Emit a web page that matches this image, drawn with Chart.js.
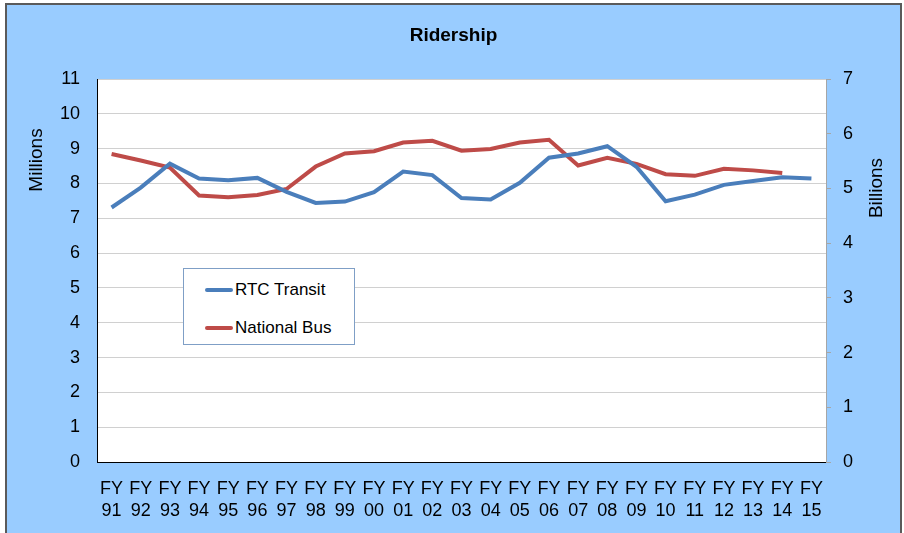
<!DOCTYPE html>
<html>
<head>
<meta charset="utf-8">
<script src="https://cdn.jsdelivr.net/npm/chart.js@4/dist/chart.umd.min.js"></script>
<style>
  html, body { margin: 0; padding: 0; background: #ffffff; }
  #frame {
    position: absolute; left: 5px; top: 3px; width: 897px; height: 540px;
    box-sizing: border-box; border: 2px solid #5a5a5a; background: #99CCFF; overflow: hidden;
  }
  #c { position: absolute; left: 0; top: 0; }
  #legend {
    position: absolute; left: 176px; top: 263px; width: 172px; height: 77px;
    box-sizing: border-box; border: 1px solid #7f9fc6; background: #ffffff;
    padding-top: 2px; font-family: 'Liberation Sans', Arial, sans-serif; font-size: 17px; color: #000;
  }
  .row { height: 38px; display: flex; align-items: center; padding-left: 21px; }
  .sw { width: 28px; height: 4px; border-radius: 2px; margin-right: 2px; }
</style>
</head>
<body>
<div id="frame">
  <canvas id="c" width="893" height="528" style="width:893px;height:528px"></canvas>
  <div id="legend"></div>
</div>
<script>
const chartTitle = 'Ridership';
const leftAxisTitle = 'Millions';
const rightAxisTitle = 'Billions';
const years = ['91','92','93','94','95','96','97','98','99','00','01','02','03','04','05','06','07','08','09','10','11','12','13','14','15'];
const rtcTransit = [7.31, 7.88, 8.57, 8.14, 8.09, 8.16, 7.76, 7.44, 7.48, 7.75, 8.34, 8.24, 7.58, 7.54, 8.02, 8.74, 8.86, 9.07, 8.48, 7.49, 7.68, 7.96, 8.07, 8.18, 8.14];
const nationalBus = [5.63, 5.51, 5.38, 4.87, 4.84, 4.88, 4.99, 5.40, 5.64, 5.68, 5.84, 5.87, 5.69, 5.72, 5.84, 5.89, 5.42, 5.56, 5.45, 5.26, 5.23, 5.36, 5.33, 5.28, null];
const seriesNames = ['RTC Transit', 'National Bus'];
const seriesColors = ['#4A7EBB', '#BE4B48'];

const FONT = "'Liberation Sans', Arial, sans-serif";
Chart.defaults.font.family = FONT;
Chart.defaults.color = '#000';

const bgPlugin = {
  id: 'bg',
  beforeDraw(chart) {
    const {ctx, chartArea: a} = chart;
    ctx.save();
    ctx.fillStyle = '#ffffff';
    ctx.fillRect(a.left, a.top, a.right - a.left, a.bottom - a.top);
    ctx.restore();
  }
};
const axisTitlePlugin = {
  id: 'axisTitles',
  afterDraw(chart) {
    const {ctx, chartArea: a} = chart;
    ctx.save();
    ctx.font = '19px ' + FONT;
    ctx.fillStyle = '#000';
    ctx.textAlign = 'center';
    ctx.textBaseline = 'middle';
    ctx.save();
    ctx.translate(a.left - 60, a.top + 81);
    ctx.rotate(-Math.PI / 2);
    ctx.fillText(leftAxisTitle, 0, 0);
    ctx.restore();
    ctx.save();
    ctx.translate(a.right + 51, a.top + 109);
    ctx.rotate(-Math.PI / 2);
    ctx.fillText(rightAxisTitle, 0, 0);
    ctx.restore();
    ctx.restore();
  }
};

const chart = new Chart(document.getElementById('c'), {
  type: 'line',
  data: {
    labels: years.map(y => ['FY', y]),
    datasets: [
      { label: seriesNames[0], data: rtcTransit, borderColor: seriesColors[0], backgroundColor: seriesColors[0],
        borderWidth: 4, pointRadius: 0, tension: 0, yAxisID: 'y' },
      { label: seriesNames[1], data: nationalBus, borderColor: seriesColors[1], backgroundColor: seriesColors[1],
        borderWidth: 4, pointRadius: 0, tension: 0, yAxisID: 'y1' }
    ]
  },
  options: {
    responsive: false,
    animation: false,
    layout: { padding: 0 },
    plugins: {
      legend: { display: false },
      tooltip: { enabled: false },
      title: {
        display: true, text: chartTitle,
        font: { size: 19, weight: 'bold', family: FONT, lineHeight: 1.2 },
        color: '#000',
        padding: { top: 19.6, bottom: 31.6 }
      }
    },
    scales: {
      x: {
        type: 'category',
        offset: true,
        grid: { display: false, drawTicks: false },
        border: { display: true, color: '#000', width: 1 },
        ticks: { autoSkip: false, maxRotation: 0, minRotation: 0, padding: 16,
                 font: { size: 18, lineHeight: 1.24 }, color: '#000' },
        afterFit(s) { s.height = 71; }
      },
      y: {
        position: 'left', min: 0, max: 11,
        grid: { color: '#d0d0d0', drawTicks: false, lineWidth: 1 },
        border: { display: true, color: '#000', width: 1 },
        ticks: { stepSize: 1, padding: 17, font: { size: 18 }, color: '#000' },
        afterFit(s) { s.width = 90; }
      },
      y1: {
        position: 'right', min: 0, max: 7,
        grid: { drawOnChartArea: false, drawTicks: true, tickLength: 5, color: '#a6a6a6' },
        border: { display: true, color: '#a6a6a6', width: 1 },
        ticks: { stepSize: 1, padding: 12, font: { size: 18 }, color: '#000' },
        afterFit(s) { s.width = 74; }
      }
    }
  },
  plugins: [bgPlugin, axisTitlePlugin]
});

const legendEl = document.getElementById('legend');
chart.data.datasets.forEach(ds => {
  const row = document.createElement('div');
  row.className = 'row';
  const sw = document.createElement('span');
  sw.className = 'sw';
  sw.style.background = ds.borderColor;
  const tx = document.createElement('span');
  tx.textContent = ds.label;
  row.appendChild(sw);
  row.appendChild(tx);
  legendEl.appendChild(row);
});
</script>
</body>
</html>
